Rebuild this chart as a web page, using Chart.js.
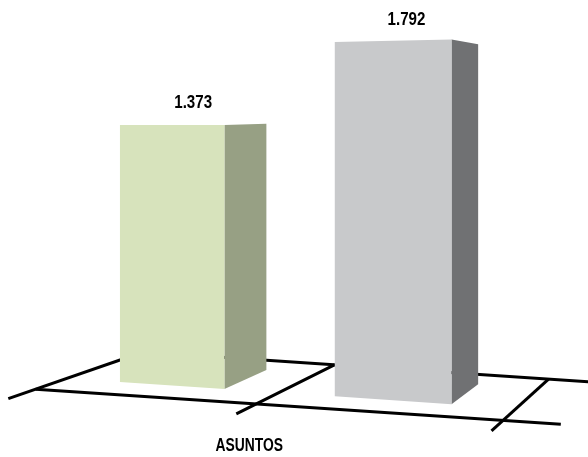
<!DOCTYPE html>
<html>
<head>
<meta charset="utf-8">
<script src="https://cdn.jsdelivr.net/npm/chart.js@4.4.1/dist/chart.umd.min.js"></script>
<style>
  html, body { margin: 0; padding: 0; background: #fff; }
  canvas { display: block; }
</style>
</head>
<body>
<canvas id="chart" width="588" height="457"></canvas>
<script>
// Datos
const categories = ["ASUNTOS"];
const seriesNames = ["Serie 1", "Serie 2"];
const seriesValues = [1373, 1792];
const frontColors = ["#D7E3BC", "#C8C9CB"];
const sideColors = ["#97A084", "#707173"];

// "camera" for the fake 3D look (two vanishing points)
const cam = { vp1x: -3700, x0: 120, horizon: 127, vp2x: 846, vp2y: 109, depth: 0.0675,
              floorFront: -0.04, floorBack: 0.098, tickEnd: -0.075 };

function project(u, py, d) {
  const s0 = cam.x0 - cam.vp1x;
  const s = s0 / (1 - (u - cam.x0) / s0);
  const x = cam.vp1x + s;
  const y = cam.horizon + (py - cam.horizon) * s / s0;
  return [x + d * (cam.vp2x - x), y + d * (cam.vp2y - y)];
}

function poly(ctx, pts, fill) {
  ctx.beginPath();
  ctx.moveTo(pts[0][0], pts[0][1]);
  for (let i = 1; i < pts.length; i++) ctx.lineTo(pts[i][0], pts[i][1]);
  ctx.closePath();
  ctx.fillStyle = fill;
  ctx.fill();
}

// narrow bold text (no Calibri here, so squeeze Liberation Sans a bit)
function narrowText(ctx, txt, x, y, size, squeeze) {
  ctx.save();
  ctx.translate(x, y);
  ctx.scale(squeeze, 1);
  ctx.font = "bold " + size + "px 'Liberation Sans', Arial, sans-serif";
  ctx.fillStyle = "#000";
  ctx.textAlign = "center";
  ctx.textBaseline = "middle";
  ctx.fillText(txt, 0, 0);
  ctx.restore();
}

const fmt = v => String(v).replace(/\B(?=(\d{3})+(?!\d))/g, ".");

const bars3d = {
  id: "bars3d",
  beforeDatasetsDraw(chart) {
    const { ctx, chartArea } = chart;
    const base = chart.scales.y.getPixelForValue(0);
    const L = chartArea.left, R = chartArea.right;
    const mid = chart.scales.x.getPixelForValue(0);
    const line = (a, b) => {
      ctx.beginPath(); ctx.moveTo(a[0], a[1]); ctx.lineTo(b[0], b[1]); ctx.stroke();
    };
    ctx.save();
    ctx.strokeStyle = "#000";
    ctx.lineWidth = 3;
    ctx.lineCap = "butt";
    line(project(L, base, cam.floorBack), project(R + 70, base, cam.floorBack));
    line(project(L, base, cam.floorFront), project(R + 45, base, cam.floorFront));
    [L, mid, R].forEach(u => line(project(u, base, cam.floorBack), project(u, base, cam.tickEnd)));
    ctx.restore();
  },
  beforeDatasetDraw() { return false; },
  afterDatasetsDraw(chart) {
    const { ctx } = chart;
    chart.data.datasets.forEach((ds, i) => {
      chart.getDatasetMeta(i).data.forEach((el, j) => {
        const p = el.getProps(["x", "y", "base", "width"], true);
        const l = p.x - p.width / 2, r = p.x + p.width / 2;
        const D = cam.depth;
        poly(ctx, [project(r, p.y, 0), project(r, p.y, D), project(r, p.base, D), project(r, p.base, 0)], ds.sideColor);
        poly(ctx, [project(l, p.y, 0), project(r, p.y, 0), project(r, p.base, 0), project(l, p.base, 0)], ds.backgroundColor);
        const a = project(l, p.y, 0), b = project(r, p.y, D);
        narrowText(ctx, fmt(ds.data[j]), (a[0] + b[0]) / 2, a[1] - 22, 18, 0.84);
      });
    });
    // category label
    const base = chart.scales.y.getPixelForValue(0);
    const c = project(chart.scales.x.getPixelForValue(0), base, cam.floorFront);
    narrowText(ctx, chart.data.labels[0], c[0] - 7, c[1] + 42, 18, 0.77);
  }
};

new Chart(document.getElementById("chart"), {
  type: "bar",
  data: {
    labels: categories,
    datasets: seriesNames.map((name, i) => ({
      label: name,
      data: [seriesValues[i]],
      backgroundColor: frontColors[i],
      sideColor: sideColors[i],
      borderWidth: 0,
      categoryPercentage: 0.985,
      barPercentage: 0.5
    }))
  },
  options: {
    responsive: false,
    animation: false,
    devicePixelRatio: 1,
    layout: { padding: { left: 66, right: 109, top: 7.6, bottom: 75 } },
    scales: {
      x: { display: false, offset: true },
      y: { display: false, min: 0, max: 2000 }
    },
    plugins: { legend: { display: false }, tooltip: { enabled: false } }
  },
  plugins: [bars3d]
});
</script>
</body>
</html>
